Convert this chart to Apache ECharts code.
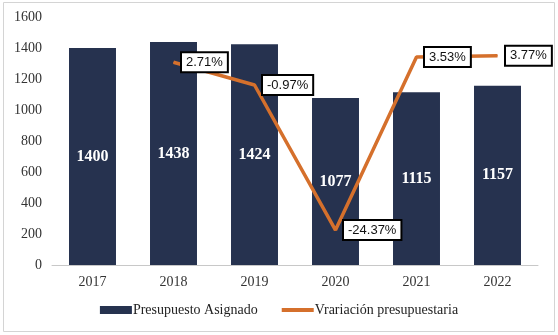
<!DOCTYPE html>
<html>
<head>
<meta charset="utf-8">
<script src="https://cdn.jsdelivr.net/npm/echarts@6/dist/echarts.min.js"></script>
<style>
html,body{margin:0;padding:0;background:#fff;}
#c{width:558px;height:335px;}
</style>
</head>
<body>
<div id="c"></div>
<script>
const categories = ['2017','2018','2019','2020','2021','2022'];
const presupuesto = [1400, 1438, 1424, 1077, 1115, 1157];
const variacion = [null, 2.71, -0.97, -24.37, 3.53, 3.77];
const yTicks = [0, 200, 400, 600, 800, 1000, 1200, 1400, 1600];

const legendText = {fontFamily: '"Liberation Serif", serif', fontSize: 14, color: '#222', padding: [0,0,0,-4]};
const chart = echarts.init(document.getElementById('c'), null, {renderer:'canvas'});
chart.setOption({
  animation: false,
  backgroundColor: '#fff',
  graphic: [{
    type: 'rect', shape: {x: 3.5, y: 2.5, width: 551, height: 329},
    style: {fill: 'none', stroke: '#d4d4d4', lineWidth: 1}, silent: true, z: -1
  }],
  grid: {left: 52, right: 20, top: 17, bottom: 70},
  legend: {
    bottom: 13, left: 'center', itemGap: 22, itemWidth: 32, itemHeight: 8,
    textStyle: legendText,
    data: [
      {name: 'Presupuesto Asignado', icon: 'rect', textStyle: legendText},
      {name: 'Vrariación presupuestaria', itemStyle: {opacity: 0},
       lineStyle: {width: 4, color: '#d5702c'}, textStyle: legendText}
    ]
  },
  xAxis: {
    type: 'category', data: categories,
    axisLine: {lineStyle: {color: '#c8c8c8', width: 1}},
    axisTick: {show: false},
    axisLabel: {fontFamily: 'Liberation Serif', fontSize: 14, color: '#333', margin: 10}
  },
  yAxis: [{
    type: 'value', min: yTicks[0], max: yTicks[yTicks.length-1], interval: 200,
    axisLine: {show: false}, axisTick: {show: false}, splitLine: {show: false},
    axisLabel: {fontFamily: 'Liberation Serif', fontSize: 14, color: '#333', margin: 10,
                formatter: v => String(v)}
  }, {
    type: 'value', min: -30, max: 10, show: false, splitLine: {show: false}
  }],
  series: [{
    name: 'Presupuesto Asignado', type: 'bar', data: presupuesto, barWidth: '58%',
    itemStyle: {color: '#26324f'},
    label: {show: true, position: 'inside', fontFamily: 'Liberation Serif', fontWeight: 'bold',
            fontSize: 16, color: '#fff'}
  }, {
    name: 'Vrariación presupuestaria', type: 'line', yAxisIndex: 1, data: variacion,
    symbol: 'circle', symbolSize: 1, showSymbol: true, connectNulls: false,
    lineStyle: {color: '#d5702c', width: 3.5},
    itemStyle: {color: '#d5702c'},
    label: {show: true, position: 'right', distance: 8,
            formatter: p => p.value + '%',
            fontFamily: 'Liberation Sans', fontSize: 13, color: '#111',
            backgroundColor: '#fff', borderColor: '#000', borderWidth: 2,
            padding: [3, 4, 2, 4]}
  }]
});
</script>
</body>
</html>
